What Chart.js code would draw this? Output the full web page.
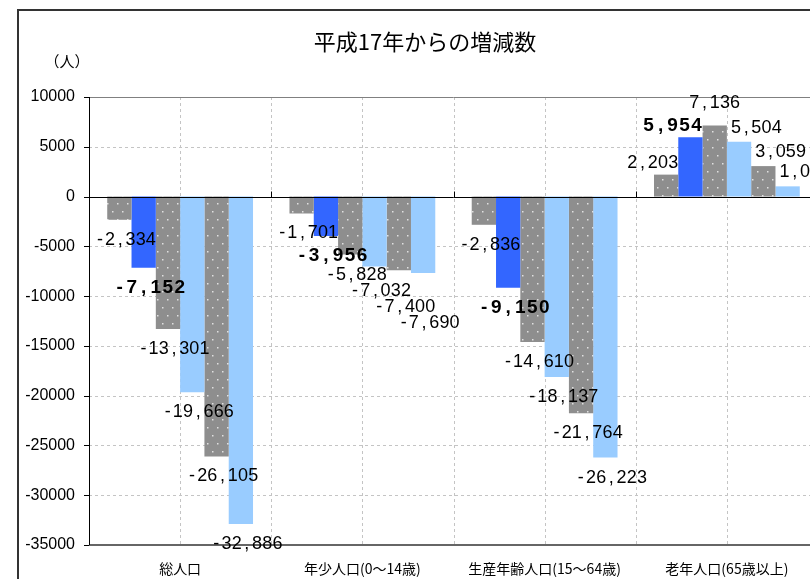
<!DOCTYPE html>
<html>
<head>
<meta charset="utf-8">
<script src="https://cdn.jsdelivr.net/npm/chart.js@4.4.0/dist/chart.umd.min.js"></script>
<style>
    html, body { margin: 0; padding: 0; background: #fff; overflow: hidden; }
    #wrap { position: absolute; left: 0; top: 0; width: 840px; height: 579px; }
</style>
</head>
<body>
<div id="wrap"><canvas id="chart" width="840" height="579"></canvas></div>
<script>
// chart values
const categories = ['総人口', '年少人口(0～14歳)', '生産年齢人口(15～64歳)', '老年人口(65歳以上)'];
const series1 = [-2334, -1701, -2836, 2203];
const series2 = [-7152, -3956, -9150, 5954];
const series3 = [-13301, -5828, -14610, 7136];
const series4 = [-19666, -7032, -18137, 5504];
const series5 = [-26105, -7400, -21764, 3059];
const series6 = [-32886, -7690, -26223, 1025];
const yMin = -35000;
const yMax = 10000;
const yStep = 5000;
const titleText = '平成17年からの増減数';
const unitText = '（人）';

const allSeries = [series1, series2, series3, series4, series5, series6];

// gray bars with little white dots
function dotPattern() {
    const tile = document.createElement('canvas');
    tile.width = 10;
    tile.height = 16;
    const t = tile.getContext('2d');
    t.fillStyle = '#8e8e8e';
    t.fillRect(0, 0, 10, 16);
    t.fillStyle = '#e0e0e0';
    t.fillRect(2, 3, 1.5, 1.5);
    t.fillRect(7, 11, 1.5, 1.5);
    return t.createPattern(tile, 'repeat');
}

const dotted = dotPattern();
const barColors = [dotted, '#3366ff', dotted, '#99ccff', dotted, '#99ccff'];

// labels are drawn one char per fixed cell, like the original's spacing
function drawMono(ctx, text, sx, cy, cell, bold) {
    ctx.font = bold ? 'bold 19px "Liberation Sans", Arial, sans-serif' : '18px "Liberation Sans", Arial, sans-serif';
    ctx.textAlign = 'center';
    ctx.textBaseline = 'middle';
    ctx.fillStyle = '#000';
    for (let k = 0; k < text.length; k++) {
        ctx.fillText(text[k], sx + k * cell + cell / 2, cy);
    }
}

const framePlugin = {
    id: 'frame',
    beforeDraw(chart) {
        const ctx = chart.ctx;
        ctx.save();
        ctx.fillStyle = '#fff';
        ctx.fillRect(0, 0, chart.width, chart.height);
        ctx.strokeStyle = '#333';
        ctx.lineWidth = 2;
        ctx.strokeRect(18, 10, chart.width + 20, chart.height + 20);

        ctx.fillStyle = '#000';
        ctx.textAlign = 'center';
        ctx.textBaseline = 'middle';
        ctx.font = '22px "Noto Sans CJK JP", sans-serif';
        ctx.fillText(titleText, 425, 42);
        ctx.font = '15px "Noto Sans CJK JP", sans-serif';
        ctx.fillText(unitText, 67, 61);
        ctx.restore();
    },
    beforeDatasetsDraw(chart) {
        const ctx = chart.ctx;
        const { left, right, top, bottom } = chart.chartArea;
        const y = chart.scales.y;
        const x = chart.scales.x;
        const catW = (right - left) / categories.length;

        ctx.save();
        ctx.lineWidth = 1;
        ctx.strokeStyle = '#c4c4c4';
        ctx.setLineDash([3, 3]);
        ctx.beginPath();
        y.ticks.forEach(t => {
            if (t.value === 0 || t.value === yMin || t.value === yMax) return;
            const py = Math.round(y.getPixelForValue(t.value)) + 0.5;
            ctx.moveTo(left, py);
            ctx.lineTo(right, py);
        });
        categories.forEach((c, i) => {
            const cx = x.getPixelForValue(i);
            [cx - catW / 2, cx].forEach(px => {
                if (px <= left + 1) return;
                const p = Math.round(px) + 0.5;
                ctx.moveTo(p, top);
                ctx.lineTo(p, bottom);
            });
        });
        ctx.stroke();
        ctx.setLineDash([]);

        // plot top and bottom edges, left axis, tick marks
        ctx.strokeStyle = '#808080';
        ctx.beginPath();
        ctx.moveTo(left, top + 0.5);
        ctx.lineTo(right, top + 0.5);
        ctx.stroke();
        ctx.strokeStyle = '#666';
        ctx.lineWidth = 2;
        ctx.beginPath();
        ctx.moveTo(left, bottom);
        ctx.lineTo(right, bottom);
        ctx.stroke();
        ctx.lineWidth = 1;
        ctx.strokeStyle = '#000';
        ctx.beginPath();
        ctx.moveTo(left + 0.5, top);
        ctx.lineTo(left + 0.5, bottom);
        y.ticks.forEach(t => {
            const py = Math.round(y.getPixelForValue(t.value)) + 0.5;
            ctx.moveTo(left - 5, py);
            ctx.lineTo(left, py);
        });
        ctx.stroke();
        ctx.restore();
    },
    afterDatasetsDraw(chart) {
        const ctx = chart.ctx;
        const { left, right } = chart.chartArea;
        const y = chart.scales.y;
        const x = chart.scales.x;
        const catW = (right - left) / categories.length;
        const zy = Math.round(y.getPixelForValue(0)) + 0.5;

        ctx.save();
        ctx.strokeStyle = '#000';
        ctx.lineWidth = 1;
        ctx.beginPath();
        ctx.moveTo(left, zy);
        ctx.lineTo(right, zy);
        categories.forEach((c, i) => {
            if (i === 0) return;
            const p = Math.round(x.getPixelForValue(i) - catW / 2) + 0.5;
            ctx.moveTo(p, zy - 6);
            ctx.lineTo(p, zy);
        });
        ctx.stroke();

        // value labels
        categories.forEach((c, j) => {
            const vals = allSeries.map(s => s[j]);
            const peak = vals.indexOf(Math.max(...vals));
            let prevY = -Infinity;
            allSeries.forEach((s, i) => {
                const bar = chart.getDatasetMeta(i).data[j];
                const v = s[j];
                const text = v.toLocaleString('en-US');
                const bold = i === 1;
                const cell = bold ? 12 : 10.2;
                const w = text.length * cell;
                const half = bar.width / 2;
                let sx, cy;
                if (v < 0) {
                    cy = Math.max(bar.y + 20, prevY + 16);
                    prevY = cy;
                    sx = bar.x + 6 - w / 2;
                } else if (i < peak) {
                    sx = bar.x + half - w;
                    cy = bar.y - 12;
                } else if (i === peak) {
                    sx = bar.x - w / 2;
                    cy = bar.y - 22;
                } else {
                    sx = bar.x - half + 4;
                    cy = bar.y - 14;
                }
                drawMono(ctx, text, sx, cy, cell, bold);
            });
        });
        ctx.restore();
    }
};

Chart.defaults.font.family = '"Liberation Sans", Arial, sans-serif';
Chart.defaults.color = '#000';

new Chart(document.getElementById('chart'), {
    type: 'bar',
    data: {
        labels: categories,
        datasets: allSeries.map((s, i) => ({
            label: 'series' + (i + 1),
            data: s,
            backgroundColor: barColors[i],
            borderWidth: 0,
            categoryPercentage: 0.8,
            barPercentage: 1
        }))
    },
    options: {
        responsive: false,
        animation: false,
        devicePixelRatio: 1,
        events: [],
        layout: { padding: { left: 0, top: 97, right: 22, bottom: 0 } },
        plugins: {
            legend: { display: false },
            tooltip: { enabled: false },
            title: { display: false }
        },
        scales: {
            x: {
                grid: { display: false, drawTicks: false },
                border: { display: false },
                ticks: {
                    padding: 15,
                    maxRotation: 0,
                    autoSkip: false,
                    font: { family: '"Noto Sans CJK JP", sans-serif', size: 14 }
                },
                afterFit(scale) { scale.height = 34; }
            },
            y: {
                min: yMin,
                max: yMax,
                grid: { display: false, drawTicks: false },
                border: { display: false },
                ticks: {
                    stepSize: yStep,
                    padding: 14,
                    font: { size: 16 },
                    callback: v => String(v)
                },
                afterFit(scale) { scale.width = 89; }
            }
        }
    },
    plugins: [framePlugin]
});
</script>
</body>
</html>
